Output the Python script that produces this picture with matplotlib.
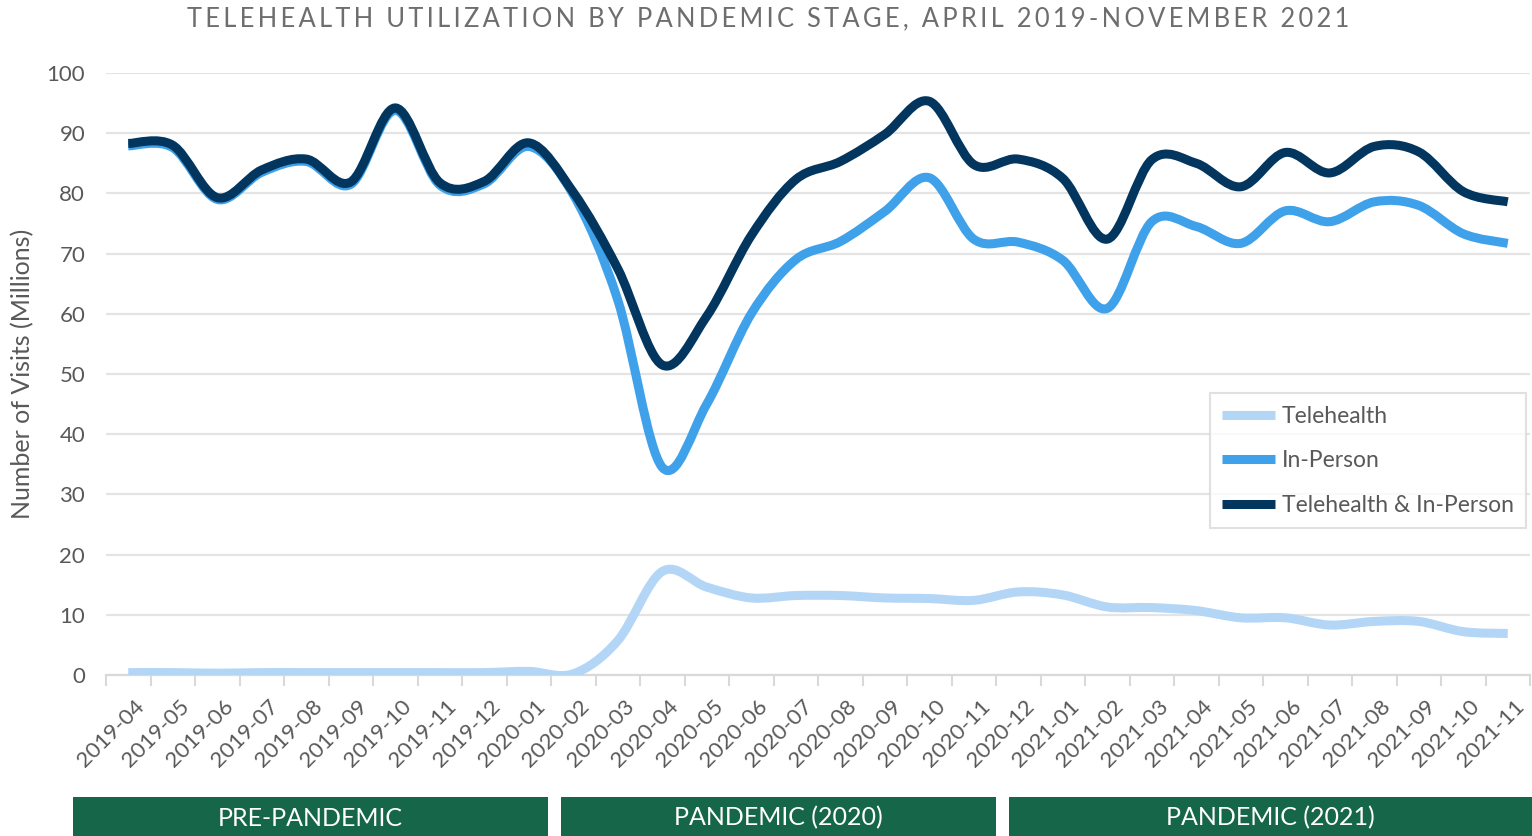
import numpy as np
import matplotlib
matplotlib.use("Agg")
import matplotlib.pyplot as plt
from matplotlib.path import Path
from matplotlib.patches import PathPatch, Rectangle
from matplotlib.lines import Line2D
import matplotlib.transforms as mtransforms

plt.rcParams['font.family'] = ['Lato', 'DejaVu Sans']

# --- Data (millions of visits) ---
months = ['2019-04', '2019-05', '2019-06', '2019-07', '2019-08', '2019-09',
          '2019-10', '2019-11', '2019-12', '2020-01', '2020-02', '2020-03',
          '2020-04', '2020-05', '2020-06', '2020-07', '2020-08', '2020-09',
          '2020-10', '2020-11', '2020-12', '2021-01', '2021-02', '2021-03',
          '2021-04', '2021-05', '2021-06', '2021-07', '2021-08', '2021-09',
          '2021-10', '2021-11']
telehealth = [0.4, 0.4, 0.3, 0.4, 0.4, 0.4, 0.4, 0.4, 0.4, 0.6, 0.2, 5.7,
              17.2, 14.6, 12.8, 13.2, 13.2, 12.8, 12.7, 12.4, 13.8, 13.3,
              11.3, 11.2, 10.7, 9.5, 9.5, 8.3, 8.9, 8.9, 7.2, 6.9]
in_person = [87.9, 87.6, 79.0, 83.5, 85.3, 81.5, 93.8, 81.4, 81.6, 87.8, 79.8,
             62.3, 34.5, 45.0, 60.0, 69.0, 72.0, 77.0, 82.6, 72.4, 71.9, 68.9,
             60.9, 75.3, 74.5, 71.7, 77.1, 75.3, 78.6, 78.0, 73.3, 71.7]
combined = [88.3, 88.0, 79.3, 83.9, 85.7, 81.9, 94.2, 81.8, 82.0, 88.4, 80.2,
            67.5, 51.5, 59.6, 73.0, 82.3, 85.3, 89.8, 95.3, 84.8, 85.7, 82.5,
            72.4, 85.6, 85.0, 81.1, 86.8, 83.4, 87.8, 86.9, 80.3, 78.6]

series_names = ['Telehealth', 'In-Person', 'Telehealth & In-Person']
series_colors = ['#B3D6F7', '#3FA1EA', '#02365F']

stages = ['PRE-PANDEMIC', 'PANDEMIC (2020)', 'PANDEMIC (2021)']
# band extents in figure pixels (left, right)
stage_px = [(73, 548), (561, 996), (1009, 1532)]

GREY = '#595959'
GRID = '#E4E4E4'


def smooth_path(xs, ys):
    # Excel-style smoothed line: cubic Bezier through each point
    p = np.column_stack([xs, ys]).astype(float)
    n = len(p)
    ext = np.vstack([p[0], p, p[-1]])
    verts = [p[0]]
    codes = [Path.MOVETO]
    for i in range(n - 1):
        p0, p1, p2, p3 = ext[i], ext[i + 1], ext[i + 2], ext[i + 3]
        c1 = p1 + (p2 - p0) / 6.0
        c2 = p2 - (p3 - p1) / 6.0
        verts += [c1, c2, p2]
        codes += [Path.CURVE4] * 3
    return Path(verts, codes)


W, H = 1532, 836
fig = plt.figure(figsize=(W / 100, H / 100), dpi=100)
ax = fig.add_axes([106 / W, 1 - 675 / H, 1424 / W, 602 / H])

x = np.arange(len(months))
for vals, name, col in zip([telehealth, in_person, combined], series_names, series_colors):
    ax.add_patch(PathPatch(smooth_path(x, vals), fill=False, edgecolor=col,
                           lw=6.5, capstyle='butt', joinstyle='round', zorder=3))

ax.set_xlim(-0.5, len(months) - 0.5)
ax.set_ylim(0, 100)
ax.set_yticks(range(0, 101, 10))
ax.yaxis.grid(True, color=GRID, lw=1.6)
ax.set_axisbelow(True)
for s in ['top', 'right', 'left']:
    ax.spines[s].set_visible(False)
ax.spines['bottom'].set_color('#D9D9D9')
ax.spines['bottom'].set_linewidth(1.6)
ax.tick_params(axis='y', length=0, pad=15, labelsize=16, labelcolor=GREY)

ax.set_xticks(x)
ax.set_xticklabels(months, rotation=45, ha='right', va='top',
                   rotation_mode='anchor', fontsize=16, color=GREY)
ax.tick_params(axis='x', which='major', length=0, pad=15)
ax.set_xticks(np.arange(-0.5, len(months), 1), minor=True)
ax.tick_params(axis='x', which='minor', length=8, width=1.5, color='#D9D9D9')
offset = mtransforms.ScaledTranslation(6 / 100, 0, fig.dpi_scale_trans)
for lab in ax.get_xticklabels():
    lab.set_transform(lab.get_transform() + offset)

ax.set_ylabel('Number of Visits (Millions)', fontsize=18, color=GREY, labelpad=9)

handles = [Line2D([], [], color=c, lw=6.5, solid_capstyle='butt') for c in series_colors]
leg = ax.legend(handles, series_names, loc='upper left', bbox_to_anchor=(0.775, 0.468),
                fontsize=16.5, frameon=True, fancybox=False, edgecolor='#D9D9D9',
                labelspacing=1.02, handlelength=2.3, handletextpad=0.3,
                borderpad=0.55, borderaxespad=0)
leg.get_frame().set_linewidth(1.5)
for t in leg.get_texts():
    t.set_color(GREY)

title = 'TELEHEALTH UTILIZATION BY PANDEMIC STAGE, APRIL 2019-NOVEMBER 2021'
fig.text(768 / W, 1 - 19 / H, '\u2009'.join(title), ha='center', va='center',
         fontsize=18.4, color='#6E6E6E')

for label, (l, r) in zip(stages, stage_px):
    fig.add_artist(Rectangle((l / W, 0), (r - l) / W, 39 / H, transform=fig.transFigure,
                             facecolor='#16664A', edgecolor='none'))
    fig.text((l + r) / 2 / W, 18 / H, label, ha='center', va='center',
             fontsize=18, color='white')

fig.savefig('out.png', dpi=100)
